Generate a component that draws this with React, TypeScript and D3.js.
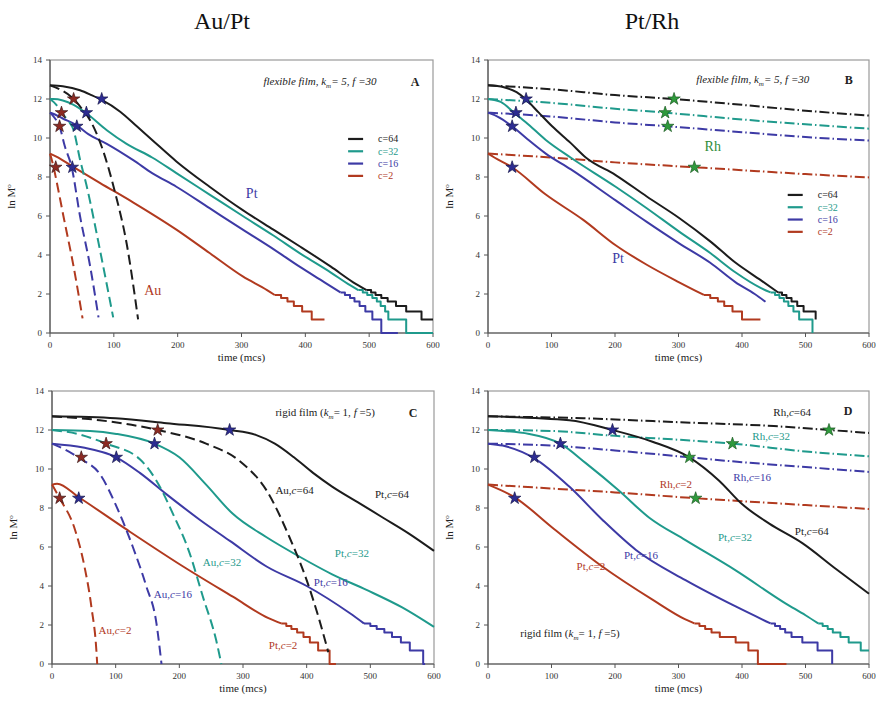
import React from 'react';
import * as d3 from 'd3';

type P = [number, number];

// colours
const BLACK = '#1c1c1c';
const TEAL = '#1f9a8c';
const BLUE = '#3d3aa5';
const RED = '#b13a1f';
const GREEN = '#2f8c3a';

const xTicks = [0, 100, 200, 300, 400, 500, 600];
const yTicks = [0, 2, 4, 6, 8, 10, 12, 14];
const legendNames = ['c=64', 'c=32', 'c=16', 'c=2'];

// ---- panel A : flexible film, Au/Pt ----
const aPt64: P[] = [[0, 12.7], [20, 12.65], [47, 12.45], [65, 12.2], [81, 11.95], [110, 11.35], [136, 10.6], [160, 9.9], [198, 8.8], [250, 7.5], [302, 6.3], [350, 5.3], [391, 4.45], [440, 3.4], [475, 2.6], [496, 2.2]];
const aPt64Steps: P[] = [[496, 2.2], [503, 2.08], [510, 1.95], [519, 1.79], [529, 1.61], [542, 1.39], [558, 1.1], [582, 0.69], [600, 0.69]];
const aPt32: P[] = [[0, 12.0], [5, 12.0], [37, 11.7], [57, 11.27], [89, 10.4], [120, 9.7], [160, 9.0], [198, 8.2], [250, 7.1], [302, 6.0], [350, 5.0], [391, 4.1], [440, 3.1], [470, 2.45], [483, 2.2]];
const aPt32Steps: P[] = [[483, 2.2], [490, 2.08], [497, 1.95], [505, 1.79], [512, 1.61], [518, 1.39], [525, 1.1], [530, 0.69], [558, 0], [600, 0]];
const aPt16: P[] = [[0, 11.3], [3, 11.27], [20, 11.0], [42, 10.65], [60, 10.2], [89, 9.7], [131, 8.85], [160, 8.2], [198, 7.5], [250, 6.4], [302, 5.3], [350, 4.3], [391, 3.4], [430, 2.6], [455, 2.08]];
const aPt16Steps: P[] = [[455, 2.08], [462, 1.95], [470, 1.79], [477, 1.61], [485, 1.39], [494, 1.1], [505, 0.69], [519, 0], [545, 0]];
const aPt2: P[] = [[0, 9.2], [10, 9.05], [35, 8.55], [78, 7.7], [130, 6.7], [198, 5.3], [250, 4.1], [302, 2.9], [340, 2.2], [352, 1.95]];
const aPt2Steps: P[] = [[352, 1.95], [362, 1.79], [372, 1.61], [382, 1.39], [395, 1.1], [410, 0.69], [430, 0.69]];
const aAu64: P[] = [[0, 12.7], [15, 12.5], [37, 12.0], [50, 11.5], [63, 10.9], [81, 9.55], [102, 7.2], [120, 4.6], [138, 0.7]];
const aAu32: P[] = [[0, 12.0], [10, 11.7], [18, 11.3], [28, 10.9], [37, 10.4], [47, 8.9], [57, 7.6], [78, 4.3], [99, 0.8]];
const aAu16: P[] = [[0, 11.3], [8, 11.0], [15, 10.6], [23, 9.6], [34, 8.5], [47, 6.0], [63, 3.4], [76, 0.8]];
const aAu2: P[] = [[0, 9.2], [5, 8.6], [12, 7.5], [21, 6.0], [37, 3.4], [51, 0.75]];
const aStarsAu: P[] = [[37, 12.0], [18, 11.3], [15, 10.6], [9, 8.5]];
const aStarsPt: P[] = [[81, 12.0], [57, 11.3], [42, 10.6], [35, 8.5]];

// ---- panel B : flexible film, Pt/Rh ----
const bPt64: P[] = [[0, 12.7], [25, 12.6], [45, 12.35], [59, 12.0], [80, 11.3], [101, 10.6], [130, 9.75], [154, 9.0], [201, 8.1], [250, 7.0], [301, 5.9], [350, 4.7], [390, 3.6], [430, 2.7], [457, 2.08]];
const bPt64Steps: P[] = [[457, 2.08], [463, 1.95], [470, 1.79], [478, 1.61], [487, 1.39], [497, 1.1], [516, 0.69]];
const bPt32: P[] = [[0, 12.0], [20, 11.85], [41, 11.3], [60, 10.8], [91, 9.9], [130, 9.0], [201, 7.5], [250, 6.4], [301, 5.2], [350, 4.1], [390, 3.1], [430, 2.3], [445, 2.08]];
const bPt32Steps: P[] = [[445, 2.08], [452, 1.95], [459, 1.79], [466, 1.61], [473, 1.39], [481, 1.1], [490, 0.69], [511, 0]];
const bPt16: P[] = [[0, 11.3], [15, 11.1], [38, 10.6], [60, 10.0], [91, 9.2], [130, 8.4], [201, 6.8], [250, 5.7], [301, 4.6], [350, 3.6], [390, 2.6], [420, 2.0], [437, 1.6]];
const bPt2: P[] = [[0, 9.2], [10, 9.0], [38, 8.5], [91, 7.1], [150, 5.8], [201, 4.5], [250, 3.5], [301, 2.6], [340, 1.95]];
const bPt2Steps: P[] = [[340, 1.95], [350, 1.79], [362, 1.61], [372, 1.39], [385, 1.1], [400, 0.69], [429, 0.69]];
const bRh64: P[] = [[0, 12.7], [100, 12.5], [200, 12.2], [293, 12.0], [400, 11.7], [500, 11.4], [600, 11.15]];
const bRh32: P[] = [[0, 12.0], [100, 11.8], [200, 11.5], [279, 11.3], [400, 10.95], [500, 10.7], [600, 10.48]];
const bRh16: P[] = [[0, 11.3], [100, 11.1], [200, 10.8], [283, 10.6], [400, 10.3], [500, 10.05], [600, 9.87]];
const bRh2: P[] = [[0, 9.2], [100, 9.0], [200, 8.75], [325, 8.5], [400, 8.35], [500, 8.15], [600, 7.98]];
const bStarsRh: P[] = [[293, 12.0], [279, 11.3], [283, 10.6], [325, 8.5]];
const bStarsPt: P[] = [[60, 12.0], [44, 11.3], [38, 10.6], [38, 8.5]];

// ---- panel C : rigid film, Au/Pt ----
const cPt64: P[] = [[0, 12.7], [100, 12.6], [180, 12.35], [279, 12.0], [320, 11.75], [350, 11.3], [380, 10.6], [410, 9.8], [440, 9.1], [480, 8.3], [520, 7.5], [560, 6.7], [600, 5.8]];
const cPt32: P[] = [[0, 12.0], [60, 11.95], [101, 11.8], [161, 11.3], [200, 10.6], [242, 9.2], [284, 7.7], [337, 6.5], [389, 5.5], [440, 4.6], [494, 3.8], [550, 2.9], [600, 1.9]];
const cPt16: P[] = [[0, 11.3], [49, 11.1], [101, 10.6], [138, 9.8], [180, 8.7], [232, 7.4], [280, 6.3], [337, 5.0], [400, 4.0], [468, 2.6], [490, 2.08]];
const cPt16Steps: P[] = [[490, 2.08], [500, 1.95], [510, 1.79], [522, 1.61], [534, 1.39], [548, 1.1], [562, 0.69], [583, 0], [586, 0]];
const cPt2: P[] = [[0, 9.2], [8, 9.25], [42, 8.55], [117, 6.9], [206, 5.0], [284, 3.45], [340, 2.35], [360, 2.08]];
const cPt2Steps: P[] = [[360, 2.08], [368, 1.95], [376, 1.79], [385, 1.61], [395, 1.39], [405, 1.1], [418, 0.69], [436, 0], [446, 0]];
const cAu64: P[] = [[0, 12.7], [75, 12.5], [166, 12.0], [242, 11.3], [295, 10.4], [337, 8.9], [373, 6.5], [400, 4.3], [420, 2.25], [434, 0.6]];
const cAu32: P[] = [[0, 12.0], [40, 11.8], [85, 11.3], [138, 10.5], [164, 9.4], [190, 7.7], [216, 5.7], [237, 3.45], [258, 1.2], [266, 0]];
const cAu16: P[] = [[0, 11.3], [20, 11.0], [46, 10.5], [75, 9.75], [101, 8.1], [127, 6.0], [148, 4.0], [164, 2.1], [172, 0]];
const cAu2: P[] = [[0, 9.2], [12, 8.5], [36, 6.9], [51, 5.0], [62, 2.9], [70, 0.55], [71, 0]];
const cStarsAu: P[] = [[166, 12.0], [85, 11.3], [46, 10.6], [12, 8.5]];
const cStarsPt: P[] = [[279, 12.0], [161, 11.3], [101, 10.6], [42, 8.5]];

// ---- panel D : rigid film, Pt/Rh ----
const dPt64: P[] = [[0, 12.7], [128, 12.5], [196, 12.0], [259, 11.4], [317, 10.6], [364, 9.4], [400, 8.2], [443, 7.2], [495, 6.2], [547, 4.9], [600, 3.6]];
const dPt32: P[] = [[0, 12.0], [65, 11.8], [114, 11.3], [154, 10.3], [206, 8.9], [254, 7.5], [311, 6.35], [390, 4.8], [469, 3.1], [500, 2.5], [520, 2.08]];
const dPt32Steps: P[] = [[520, 2.08], [527, 1.95], [535, 1.79], [543, 1.61], [555, 1.39], [568, 1.1], [587, 0.69], [600, 0.69]];
const dPt16: P[] = [[0, 11.3], [23, 11.2], [73, 10.55], [128, 9.1], [180, 7.4], [233, 5.85], [311, 4.3], [390, 2.95], [445, 2.08]];
const dPt16Steps: P[] = [[445, 2.08], [452, 1.95], [460, 1.79], [468, 1.61], [478, 1.39], [495, 1.1], [519, 0.69], [542, 0]];
const dPt2: P[] = [[0, 9.2], [42, 8.55], [101, 7.0], [180, 5.0], [259, 3.3], [310, 2.3], [325, 2.08]];
const dPt2Steps: P[] = [[325, 2.08], [333, 1.95], [342, 1.79], [352, 1.61], [365, 1.39], [390, 1.1], [410, 0.69], [425, 0], [470, 0]];
const dRh64: P[] = [[0, 12.7], [150, 12.6], [300, 12.4], [450, 12.2], [537, 12.0], [600, 11.85]];
const dRh32: P[] = [[0, 12.0], [100, 11.95], [200, 11.7], [300, 11.5], [385, 11.3], [500, 10.9], [600, 10.65]];
const dRh16: P[] = [[0, 11.3], [100, 11.2], [200, 10.95], [317, 10.6], [400, 10.35], [500, 10.1], [600, 9.85]];
const dRh2: P[] = [[0, 9.2], [100, 9.0], [200, 8.8], [327, 8.5], [400, 8.35], [500, 8.15], [600, 7.95]];
const dStarsRh: P[] = [[537, 12.0], [385, 11.3], [317, 10.6], [327, 8.5]];
const dStarsPt: P[] = [[196, 12.0], [114, 11.3], [73, 10.6], [42, 8.5]];

const AU_DASH = '10,5';
const RH_DASH = '10,3,1.5,3';
const STAR_AU = { fill: '#8c2a22', stroke: '#3a1515' };
const STAR_PT = { fill: '#2d2c92', stroke: '#15154a' };
const STAR_RH = { fill: '#2f9a3c', stroke: '#1b5a22' };
const FONT = "'Liberation Serif', 'Times New Roman', Times, serif";

type Curve = { pts: P[]; steps?: P[]; color: string; dash?: string };
type Label = { text: string; at: P; color: string; size?: number; italicC?: boolean };

function Star({ x, y, c }: { x: number; y: number; c: { fill: string; stroke: string } }) {
  const path = d3.symbol().type(d3.symbolStar).size(48)() as string;
  return <path d={path} transform={`translate(${x},${y})`} fill={c.fill} stroke={c.stroke} strokeWidth={0.7} />;
}

function NoteText({ kind }: { kind: 'flex' | 'rigid' }) {
  if (kind === 'flex')
    return (
      <>
        flexible film, <tspan>k</tspan>
        <tspan fontSize={7} dy={3}>m</tspan>
        <tspan dy={-3}>= 5, </tspan>
        <tspan>f</tspan> =30
      </>
    );
  return (
    <>
      rigid film (<tspan fontStyle="italic">k</tspan>
      <tspan fontSize={7} dy={3} fontStyle="italic">m</tspan>
      <tspan dy={-3}>= 1, </tspan>
      <tspan fontStyle="italic">f</tspan> =5)
    </>
  );
}

function Panel(props: {
  box: { l: number; r: number; t: number; b: number };
  curves: Curve[];
  stars: { pts: P[]; c: { fill: string; stroke: string } }[];
  labels: Label[];
  legendAt?: P;
  note: { kind: 'flex' | 'rigid'; at: P };
  letter: { text: string; at: P };
}) {
  const { box, curves, stars, labels, legendAt, note, letter } = props;
  const x = d3.scaleLinear().domain([0, 600]).range([box.l, box.r]);
  const y = d3.scaleLinear().domain([0, 14]).range([box.b, box.t]);
  const smooth = d3.line<P>().x(d => x(d[0])).y(d => y(d[1])).curve(d3.curveMonotoneX);
  const stair = d3.line<P>().x(d => x(d[0])).y(d => y(d[1])).curve(d3.curveStepAfter);
  const cx = (box.l + box.r) / 2;
  const cy = (box.t + box.b) / 2;
  return (
    <g>
      <rect x={box.l} y={box.t} width={box.r - box.l} height={box.b - box.t} fill="none" stroke="#9a9a9a" strokeWidth={1.2} />
      <line x1={box.l} x2={box.l} y1={box.t} y2={box.b} stroke="#555" strokeWidth={1.2} />
      <line x1={box.l} x2={box.r} y1={box.b} y2={box.b} stroke="#555" strokeWidth={1.2} />
      {yTicks.map(v => (
        <g key={'y' + v}>
          <line x1={box.l - 4} x2={box.l} y1={y(v)} y2={y(v)} stroke="#555" />
          <text x={box.l - 8} y={y(v)} dy="0.35em" textAnchor="end" fontSize={9} fill="#333">{v}</text>
        </g>
      ))}
      {xTicks.map(v => (
        <g key={'x' + v}>
          <line x1={x(v)} x2={x(v)} y1={box.b} y2={box.b + 4} stroke="#555" />
          <text x={x(v)} y={box.b + 15} textAnchor="middle" fontSize={9} fill="#333">{v}</text>
        </g>
      ))}
      <text transform={`translate(${box.l - 35},${cy}) rotate(-90)`} textAnchor="middle" fontSize={11} fill="#222">
        ln M<tspan fontSize={7} dy={-4}>o</tspan>
      </text>
      <text x={cx} y={box.b + 28} textAnchor="middle" fontSize={11} fill="#222">time (mcs)</text>
      <g fill="none" strokeWidth={2} strokeLinejoin="round">
        {curves.map((c, i) => (
          <g key={i}>
            <path d={smooth(c.pts) as string} stroke={c.color} strokeDasharray={c.dash} />
            {c.steps && <path d={stair(c.steps) as string} stroke={c.color} />}
          </g>
        ))}
      </g>
      {stars.map((s, i) => s.pts.map((p, j) => <Star key={i + '-' + j} x={x(p[0])} y={y(p[1])} c={s.c} />))}
      {labels.map((lb, i) => (
        <text key={i} x={x(lb.at[0])} y={y(lb.at[1])} dy="0.35em" textAnchor="middle" fontSize={lb.size || 11} fill={lb.color}>
          {lb.italicC ? (
            <>
              {lb.text.split(',')[0]},<tspan fontStyle="italic">c</tspan>{lb.text.split('c')[1]}
            </>
          ) : lb.text}
        </text>
      ))}
      {legendAt &&
        [BLACK, TEAL, BLUE, RED].map((col, i) => (
          <g key={i}>
            <line x1={x(legendAt[0])} x2={x(legendAt[0]) + 15} y1={y(legendAt[1]) + i * 12.3} y2={y(legendAt[1]) + i * 12.3} stroke={col} strokeWidth={2.2} />
            <text x={x(legendAt[0]) + 30} y={y(legendAt[1]) + i * 12.3} dy="0.35em" fontSize={10} fill={col}>{legendNames[i]}</text>
          </g>
        ))}
      <text x={x(note.at[0])} y={y(note.at[1])} dy="0.35em" textAnchor="middle" fontSize={11} fill="#222" fontStyle={note.kind === 'flex' ? 'italic' : 'normal'}>
        <NoteText kind={note.kind} />
      </text>
      <text x={x(letter.at[0])} y={y(letter.at[1])} dy="0.35em" textAnchor="middle" fontSize={12} fontWeight="bold" fill="#222">{letter.text}</text>
    </g>
  );
}

export default function App() {
  return (
    <svg width={876} height={710} style={{ position: 'absolute', left: 0, top: 0, background: '#fff', fontFamily: FONT }}>
      <rect width={876} height={710} fill="#fff" />
      <text x={222} y={29} textAnchor="middle" fontSize={24} fill="#111">Au/Pt</text>
      <text x={652} y={29} textAnchor="middle" fontSize={24} fill="#111">Pt/Rh</text>

      <Panel
        box={{ l: 50, r: 433, t: 60, b: 333 }}
        curves={[
          { pts: aPt64, steps: aPt64Steps, color: BLACK },
          { pts: aPt32, steps: aPt32Steps, color: TEAL },
          { pts: aPt16, steps: aPt16Steps, color: BLUE },
          { pts: aPt2, steps: aPt2Steps, color: RED },
          { pts: aAu64, color: BLACK, dash: AU_DASH },
          { pts: aAu32, color: TEAL, dash: AU_DASH },
          { pts: aAu16, color: BLUE, dash: AU_DASH },
          { pts: aAu2, color: RED, dash: AU_DASH },
        ]}
        stars={[{ pts: aStarsAu, c: STAR_AU }, { pts: aStarsPt, c: STAR_PT }]}
        labels={[
          { text: 'Pt', at: [316, 7.2], color: BLUE, size: 14 },
          { text: 'Au', at: [161, 2.2], color: RED, size: 14 },
        ]}
        legendAt={[467, 9.95]}
        note={{ kind: 'flex', at: [423, 12.9] }}
        letter={{ text: 'A', at: [572, 12.9] }}
      />

      <Panel
        box={{ l: 488, r: 869, t: 60, b: 333 }}
        curves={[
          { pts: bRh64, color: BLACK, dash: RH_DASH },
          { pts: bRh32, color: TEAL, dash: RH_DASH },
          { pts: bRh16, color: BLUE, dash: RH_DASH },
          { pts: bRh2, color: RED, dash: RH_DASH },
          { pts: bPt64, steps: bPt64Steps, color: BLACK },
          { pts: bPt32, steps: bPt32Steps, color: TEAL },
          { pts: bPt16, color: BLUE },
          { pts: bPt2, steps: bPt2Steps, color: RED },
        ]}
        stars={[{ pts: bStarsRh, c: STAR_RH }, { pts: bStarsPt, c: STAR_PT }]}
        labels={[
          { text: 'Rh', at: [354, 9.6], color: GREEN, size: 14 },
          { text: 'Pt', at: [205, 3.85], color: BLUE, size: 14 },
        ]}
        legendAt={[472, 7.08]}
        note={{ kind: 'flex', at: [417, 13.0] }}
        letter={{ text: 'B', at: [568, 13.0] }}
      />

      <Panel
        box={{ l: 52, r: 434, t: 391, b: 664 }}
        curves={[
          { pts: cPt64, color: BLACK },
          { pts: cPt32, color: TEAL },
          { pts: cPt16, steps: cPt16Steps, color: BLUE },
          { pts: cPt2, steps: cPt2Steps, color: RED },
          { pts: cAu64, color: BLACK, dash: AU_DASH },
          { pts: cAu32, color: TEAL, dash: AU_DASH },
          { pts: cAu16, color: BLUE, dash: AU_DASH },
          { pts: cAu2, color: RED, dash: AU_DASH },
        ]}
        stars={[{ pts: cStarsAu, c: STAR_AU }, { pts: cStarsPt, c: STAR_PT }]}
        labels={[
          { text: 'Au,c=64', at: [381, 8.9], color: BLACK, italicC: true },
          { text: 'Pt,c=64', at: [534, 8.7], color: BLACK, italicC: true },
          { text: 'Pt,c=32', at: [471, 5.7], color: TEAL, italicC: true },
          { text: 'Au,c=32', at: [267, 5.2], color: TEAL, italicC: true },
          { text: 'Pt,c=16', at: [438, 4.2], color: BLUE, italicC: true },
          { text: 'Au,c=16', at: [190, 3.6], color: BLUE, italicC: true },
          { text: 'Au,c=2', at: [99, 1.75], color: RED, italicC: true },
          { text: 'Pt,c=2', at: [363, 0.97], color: RED, italicC: true },
        ]}
        note={{ kind: 'rigid', at: [429, 12.9] }}
        letter={{ text: 'C', at: [567, 12.9] }}
      />

      <Panel
        box={{ l: 488, r: 869, t: 391, b: 664 }}
        curves={[
          { pts: dRh64, color: BLACK, dash: RH_DASH },
          { pts: dRh32, color: TEAL, dash: RH_DASH },
          { pts: dRh16, color: BLUE, dash: RH_DASH },
          { pts: dRh2, color: RED, dash: RH_DASH },
          { pts: dPt64, color: BLACK },
          { pts: dPt32, steps: dPt32Steps, color: TEAL },
          { pts: dPt16, steps: dPt16Steps, color: BLUE },
          { pts: dPt2, steps: dPt2Steps, color: RED },
        ]}
        stars={[{ pts: dStarsRh, c: STAR_RH }, { pts: dStarsPt, c: STAR_PT }]}
        labels={[
          { text: 'Rh,c=64', at: [479, 12.9], color: BLACK, italicC: true },
          { text: 'Rh,c=32', at: [446, 11.7], color: TEAL, italicC: true },
          { text: 'Rh,c=16', at: [416, 9.6], color: BLUE, italicC: true },
          { text: 'Rh,c=2', at: [296, 9.2], color: RED, italicC: true },
          { text: 'Pt,c=64', at: [510, 6.8], color: BLACK, italicC: true },
          { text: 'Pt,c=32', at: [389, 6.5], color: TEAL, italicC: true },
          { text: 'Pt,c=16', at: [241, 5.6], color: BLUE, italicC: true },
          { text: 'Pt,c=2', at: [162, 5.0], color: RED, italicC: true },
        ]}
        note={{ kind: 'rigid', at: [129, 1.6] }}
        letter={{ text: 'D', at: [567, 13.0] }}
      />
    </svg>
  );
}
